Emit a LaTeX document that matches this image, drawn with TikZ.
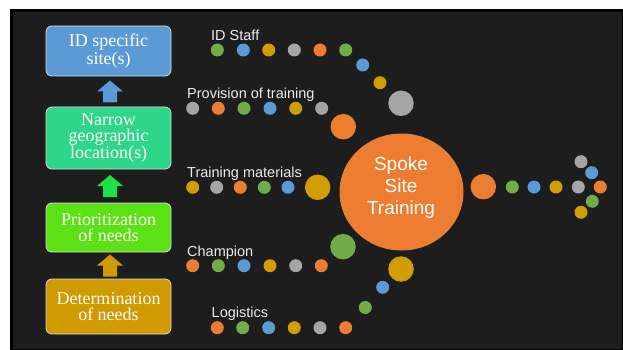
\documentclass[tikz,border=0pt]{standalone}
\usepackage{fontspec}
\setmainfont{Liberation Serif}
\newfontfamily\lsans{Liberation Sans}
\usetikzlibrary{calc,shapes.geometric}
\definecolor{dBlue}{RGB}{91,155,213}
\definecolor{dOrange}{RGB}{237,125,49}
\definecolor{dGray}{RGB}{165,165,165}
\definecolor{dGold}{RGB}{209,157,0}
\definecolor{dGreen}{RGB}{112,173,71}
\definecolor{boxA}{RGB}{91,155,213}
\definecolor{boxB}{RGB}{46,214,138}
\definecolor{boxC}{RGB}{92,226,20}
\definecolor{boxD}{RGB}{208,154,0}
\definecolor{arrB}{RGB}{30,224,72}
\definecolor{bgc}{RGB}{29,29,29}
\tikzset{
  stepbox/.style={draw=white!85!black, line width=0.8pt, rounded corners=6pt,
    minimum width=125pt, align=center, text=white, inner sep=0pt,
    font=\fontsize{18}{16.3}\selectfont},
  dot/.style={circle, inner sep=0pt, minimum size=13pt},
  bigdot/.style={circle, inner sep=0pt, minimum size=25.5pt},
  lbl/.style={anchor=base west, inner sep=0pt, text=white!92!black,
    font=\lsans\fontsize{14.5}{16}\selectfont},
  uparrow/.pic={\fill[pic actions] (-7,11) -- (-7,0) -- (-13,0) -- (0,-11) -- (13,0) -- (7,0) -- (7,11) -- cycle;}
}
\begin{document}
\begin{tikzpicture}[x=1pt,y=-1pt]
\useasboundingbox (0,0) rectangle (623,350);
\fill[white] (0,0) rectangle (623,350);
\fill[bgc] (10,9) rectangle (623,350);
\draw[black, line width=3pt] (11.5,10.5) rectangle (623,350);

% left boxes
\node[stepbox, fill=boxA, minimum height=50pt] (b1) at (108.5,51) {ID specific\\site(s)};
\node[stepbox, fill=boxB, minimum height=62pt] (b2) at (108.5,138) {Narrow\\geographic\\location(s)};
\node[stepbox, fill=boxC, minimum height=49pt] (b3) at (108.5,227.5) {Prioritization\\of needs};
\node[stepbox, fill=boxD, minimum height=55pt] (b4) at (108.5,306.5) {Determination\\of needs};
\pic[fill=dBlue] at ($(b1.south)!0.5!(b2.north)+(1.5,0)$) {uparrow};
\pic[fill=arrB] at ($(b2.south)!0.5!(b3.north)+(1.5,0)$) {uparrow};
\pic[fill=boxD] at ($(b3.south)!0.5!(b4.north)+(1.5,0)$) {uparrow};

% hub
\node[ellipse, minimum width=124pt, minimum height=117pt, inner sep=0pt, fill=dOrange] (hub) at (401.5,192) {};
\node[anchor=base, inner sep=0pt, text=white, font=\lsans\fontsize{19}{22}\selectfont] (h1) at (401,170) {Spoke};
\node[anchor=base, inner sep=0pt, text=white, font=\lsans\fontsize{19}{22}\selectfont] (h2) at (401,192.5) {Site};
\node[anchor=base, inner sep=0pt, text=white, font=\lsans\fontsize{19}{22}\selectfont] (h3) at (401,214) {Training};

% labels
\node[lbl] (l1) at (211,41) {ID Staff};
\node[lbl] (l2) at (187,99) {Provision of training};
\node[lbl] (l3) at (187,177.7) {Training materials};
\node[lbl] (l4) at (187,256) {Champion};
\node[lbl] (l5) at (211.5,317.7) {Logistics};

% ID Staff row
\foreach \x/\c [count=\i] in {217.3/dGreen,243.3/dBlue,268.7/dGold,294.3/dGray,320/dOrange,345.7/dGreen}
  \node[dot, fill=\c] (r1\i) at (\x,50) {};
\node[dot, fill=dBlue] (r1a) at (362.7,65) {};
\node[dot, fill=dGold] (r1b) at (380,82.7) {};
\node[bigdot, fill=dGray] (r1c) at (401,103.3) {};

% Provision row
\foreach \x/\c [count=\i] in {192.7/dGray,218.3/dOrange,244/dGreen,270/dBlue,295.7/dGold,321.7/dGray}
  \node[dot, fill=\c] (r2\i) at (\x,108.3) {};
\node[bigdot, fill=dOrange] (r2a) at (343.3,126.7) {};

% Training materials row
\foreach \x/\c [count=\i] in {192.7/dGold,216.7/dGray,240.3/dOrange,264.3/dGreen,288/dBlue}
  \node[dot, fill=\c] (r3\i) at (\x,187.3) {};
\node[bigdot, fill=dGold] (r3a) at (317.7,187.3) {};

% Champion row
\foreach \x/\c [count=\i] in {192.7/dOrange,218.3/dGreen,244/dBlue,270/dGold,295.7/dGray,321.3/dOrange}
  \node[dot, fill=\c] (r4\i) at (\x,265.7) {};
\node[bigdot, fill=dGreen] (r4a) at (343,246.7) {};

% Logistics row
\foreach \x/\c [count=\i] in {217.3/dOrange,242.7/dGreen,268.7/dBlue,294.3/dGold,320/dGray,345.7/dOrange}
  \node[dot, fill=\c] (r5\i) at (\x,327.7) {};
\node[dot, fill=dGreen] (r5a) at (365.3,307.5) {};
\node[dot, fill=dBlue] (r5b) at (382.7,287.3) {};
\node[bigdot, fill=dGold] (r5c) at (401,269) {};

% outgoing arrow of dots
\node[bigdot, fill=dOrange] (o0) at (483.3,186.7) {};
\foreach \x/\c [count=\i] in {512.3/dGreen,534/dBlue,556/dGold,578.3/dGray,600.3/dOrange}
  \node[dot, fill=\c] (o\i) at (\x,187) {};
\node[dot, fill=dGray] (oa) at (581,161.7) {};
\node[dot, fill=dBlue] (ob) at (591.7,172.7) {};
\node[dot, fill=dGreen] (oc) at (592.3,201.3) {};
\node[dot, fill=dGold] (od) at (581,212.3) {};
\end{tikzpicture}
\end{document}
